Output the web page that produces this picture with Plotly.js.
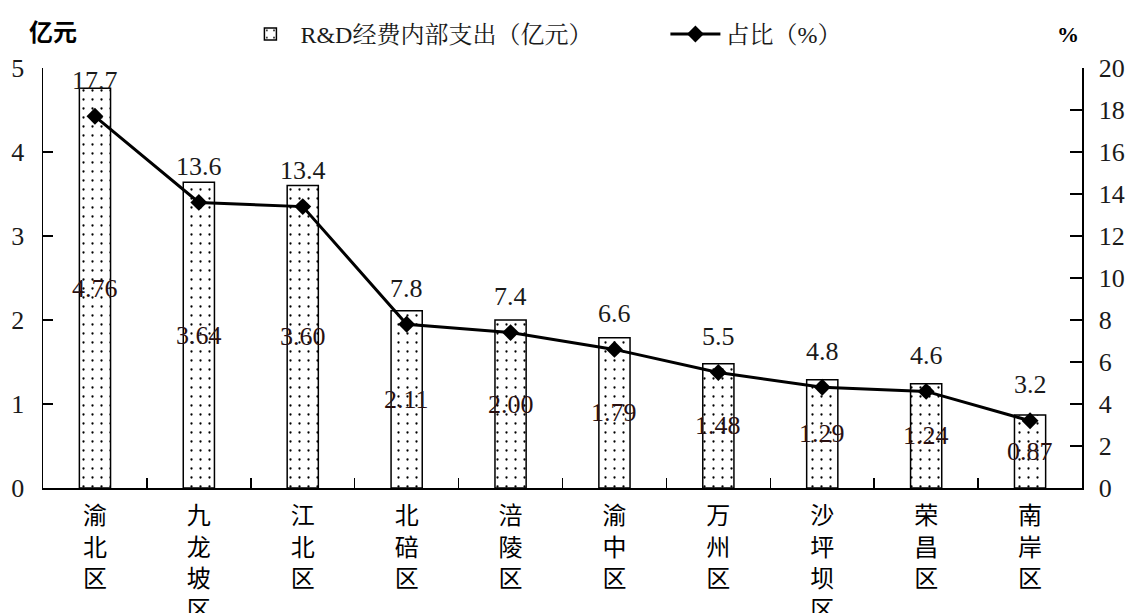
<!DOCTYPE html>
<html>
<head>
<meta charset="utf-8">
<script src="https://cdn.plot.ly/plotly-3.0.1.min.js"></script>
<style>
html,body{margin:0;padding:0;background:#fff;}
#chart{width:1130px;height:613px;}
</style>
</head>
<body>
<div id="chart"></div>
<script>
// ---- data ----
const categories = ['渝北区','九龙坡区','江北区','北碚区','涪陵区','渝中区','万州区','沙坪坝区','荣昌区','南岸区'];
const rdSpend = [4.76, 3.64, 3.60, 2.11, 2.00, 1.79, 1.48, 1.29, 1.24, 0.87];
const rdLabels = ['4.76','3.64','3.60','2.11','2.00','1.79','1.48','1.29','1.24','0.87'];
const share = [17.7, 13.6, 13.4, 7.8, 7.4, 6.6, 5.5, 4.8, 4.6, 3.2];
const shareLabels = ['17.7','13.6','13.4','7.8','7.4','6.6','5.5','4.8','4.6','3.2'];
const seriesNames = ['R&D经费内部支出（亿元）', '占比（%）'];
const leftTicks = [0,1,2,3,4,5];
const rightTicks = [0,2,4,6,8,10,12,14,16,18,20];

const serif = 'Liberation Serif, Noto Serif CJK SC, Noto Sans CJK SC, serif';
const cjk = 'Noto Sans CJK SC, sans-serif';
const txt = '#1a1a1a';

const tickText = categories.map(c => c.split('').join('<br>'));

const barTrace = {
  type: 'bar',
  name: seriesNames[0],
  x: categories,
  y: rdSpend,
  width: 0.3,
  marker: {
    color: '#ffffff',
    line: {color: '#000', width: 1.5},
    pattern: {shape: '.', fgcolor: '#000', bgcolor: '#fff', size: 9, solidity: 0.05}
  },
  hoverinfo: 'x+y'
};

const lineTrace = {
  type: 'scatter',
  mode: 'lines+markers',
  name: seriesNames[1],
  x: categories,
  y: share,
  yaxis: 'y2',
  line: {color: '#000', width: 3},
  marker: {symbol: 'diamond', size: 13, color: '#000'}
};

const annotations = [];
categories.forEach((c, i) => {
  annotations.push({
    x: c, y: rdSpend[i] / 2, xref: 'x', yref: 'y',
    text: rdLabels[i], showarrow: false,
    font: {family: serif, size: 26, color: '#2a1010'},
    xanchor: 'center', yanchor: 'middle'
  });
  annotations.push({
    x: c, y: share[i], xref: 'x', yref: 'y2',
    text: shareLabels[i], showarrow: false,
    font: {family: serif, size: 26, color: txt},
    xanchor: 'center', yanchor: 'middle', yshift: 36
  });
});
annotations.push({
  text: '<b>亿元</b>', xref: 'paper', yref: 'paper', x: 0.01, y: 1.09,
  xanchor: 'center', yanchor: 'middle', showarrow: false,
  font: {family: cjk, size: 24, color: '#000'}
});
annotations.push({
  text: '<b>%</b>', xref: 'paper', yref: 'paper', x: 0.987, y: 1.08,
  xanchor: 'center', yanchor: 'middle', showarrow: false,
  font: {family: serif, size: 22, color: '#000'}
});

const layout = {
  width: 1130, height: 613,
  margin: {l: 43, r: 48, t: 60, b: 125},
  paper_bgcolor: '#fff', plot_bgcolor: '#fff',
  showlegend: true,
  legend: {
    orientation: 'h', x: 0.19, y: 1.08, xanchor: 'left', yanchor: 'middle',
    font: {family: serif, size: 24, color: txt},
    itemwidth: 50, entrywidth: 360, bgcolor: 'rgba(0,0,0,0)'
  },
  xaxis: {
    type: 'category',
    tickvals: categories, ticktext: tickText,
    tickson: 'boundaries', ticks: 'inside', ticklen: 10, tickcolor: '#000', tickwidth: 1.5,
    showline: true, linecolor: '#000', linewidth: 1.5,
    showgrid: false, zeroline: false,
    tickfont: {family: cjk, size: 24, color: '#000'},
    ticklabelstandoff: 6,
    range: [-0.5, 9.5], fixedrange: true
  },
  yaxis: {
    range: [0, 5], tickvals: leftTicks,
    ticks: 'inside', ticklen: 10, tickcolor: '#000', tickwidth: 1.5,
    showline: true, linecolor: '#000', linewidth: 1.5,
    showgrid: false, zeroline: false,
    tickfont: {family: serif, size: 26, color: txt},
    ticklabelstandoff: 12
  },
  yaxis2: {
    overlaying: 'y', side: 'right',
    range: [0, 20], tickvals: rightTicks,
    ticks: 'inside', ticklen: 12, tickcolor: '#000', tickwidth: 1.5,
    showline: true, linecolor: '#000', linewidth: 1.5,
    showgrid: false, zeroline: false,
    tickfont: {family: serif, size: 26, color: txt},
    ticklabelstandoff: 10
  },
  annotations: annotations
};

Plotly.newPlot('chart', [barTrace, lineTrace], layout, {displayModeBar: false, staticPlot: true});
</script>
</body>
</html>
